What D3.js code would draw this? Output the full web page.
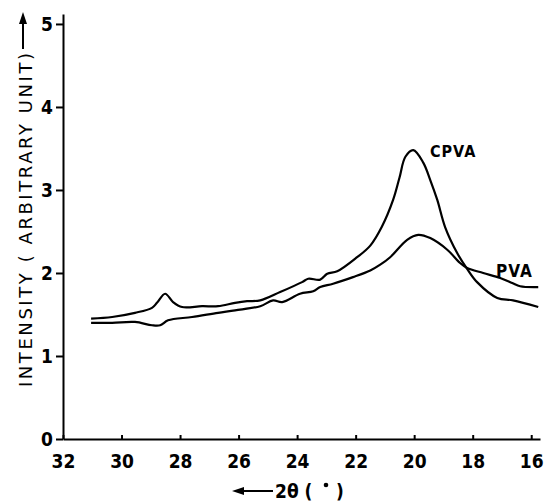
<!DOCTYPE html>
<html>
<head>
<meta charset="utf-8">
<script src="https://cdn.jsdelivr.net/npm/d3@7"></script>
<style>
  body { margin: 0; background: #fff; }
  svg text { font-family: "DejaVu Sans Condensed", "DejaVu Sans", sans-serif; font-stretch: condensed; fill: #000; }
</style>
</head>
<body>
<svg width="544" height="502"></svg>
<script>
const svg = d3.select("svg");

// 2-theta (degrees) and intensity
const cpvaTheta = [31.04, 30.32, 29.54, 28.96, 28.79, 28.51, 28.24, 27.93, 27.25, 26.70, 26.12, 25.71, 25.26, 24.58, 23.83, 23.62, 23.21, 22.97, 22.63, 21.95, 21.50, 21.10, 20.72, 20.50, 20.30, 20.03, 19.69, 19.45, 19.21, 18.94, 18.53, 18.19, 17.85, 17.16, 16.62, 15.76];
const cpvaValue = [1.45, 1.47, 1.52, 1.58, 1.64, 1.75, 1.65, 1.59, 1.60, 1.60, 1.64, 1.66, 1.67, 1.77, 1.89, 1.93, 1.92, 1.99, 2.02, 2.19, 2.33, 2.56, 2.88, 3.15, 3.40, 3.48, 3.33, 3.12, 2.88, 2.55, 2.24, 2.05, 1.89, 1.70, 1.67, 1.59];

const pvaTheta = [31.04, 30.32, 29.54, 28.96, 28.68, 28.41, 27.59, 26.70, 26.12, 25.26, 24.82, 24.51, 23.90, 23.45, 23.21, 22.77, 22.09, 21.50, 21.16, 20.82, 20.24, 19.86, 19.45, 18.87, 18.43, 18.19, 17.64, 17.06, 16.65, 16.38, 15.76];
const pvaValue = [1.40, 1.40, 1.41, 1.37, 1.37, 1.43, 1.47, 1.52, 1.55, 1.60, 1.67, 1.65, 1.75, 1.78, 1.83, 1.87, 1.95, 2.03, 2.10, 2.19, 2.40, 2.46, 2.42, 2.28, 2.12, 2.06, 2.00, 1.94, 1.88, 1.84, 1.83];

const xTicks = [32, 30, 28, 26, 24, 22, 20, 18, 16];
const yTicks = [0, 1, 2, 3, 4, 5];

const x = d3.scaleLinear().domain([32, 15.7]).range([63, 540]);
const y = d3.scaleLinear().domain([0, 5.12]).range([439, 14]);

// x axis (ticks point up)
const gx = svg.append("g").attr("transform", `translate(0,${y(0)})`)
  .call(d3.axisBottom(x).tickValues(xTicks).tickFormat(d3.format("d"))
    .tickSizeInner(-4).tickSizeOuter(0).tickPadding(16));
gx.select(".domain").attr("stroke", "#000").attr("stroke-width", 2);
gx.selectAll(".tick line").attr("stroke", "#000").attr("stroke-width", 2);
gx.selectAll(".tick text").attr("font-size", 19).attr("font-weight", "bold");

// y axis
const gy = svg.append("g").attr("transform", `translate(${x(32)},0)`)
  .call(d3.axisLeft(y).tickValues(yTicks).tickFormat(d3.format("d"))
    .tickSize(7).tickSizeOuter(0).tickPadding(3));
gy.select(".domain").attr("stroke", "#000").attr("stroke-width", 2);
gy.selectAll(".tick line").attr("stroke", "#000").attr("stroke-width", 2);
gy.selectAll(".tick text").attr("font-size", 19).attr("font-weight", "bold");

// curves
const line = d3.line().x(d => x(d[0])).y(d => y(d[1])).curve(d3.curveCatmullRom.alpha(0.5));
const cpva = cpvaTheta.map((t, i) => [t, cpvaValue[i]]);
const pva = pvaTheta.map((t, i) => [t, pvaValue[i]]);
[cpva, pva].forEach(d => {
  svg.append("path").datum(d).attr("d", line)
    .attr("fill", "none").attr("stroke", "#000").attr("stroke-width", 2.2)
    .attr("stroke-linejoin", "round");
});

svg.append("text").attr("x", 430).attr("y", 157).attr("font-size", 16).attr("font-weight", "bold")
  .attr("letter-spacing", 1).text("CPVA");
svg.append("text").attr("x", 496).attr("y", 277).attr("font-size", 17).attr("font-weight", "bold")
  .attr("letter-spacing", 1).text("PVA");

// y axis title with arrow
svg.append("text").attr("transform", "translate(32,387) rotate(-90)")
  .attr("font-size", 18).style("font-stretch", "normal").style("font-family", "'DejaVu Sans', sans-serif")
  .attr("textLength", 334).attr("lengthAdjust", "spacing")
  .text("INTENSITY ( ARBITRARY UNIT)");
svg.append("line").attr("x1", 23).attr("x2", 23).attr("y1", 49).attr("y2", 20)
  .attr("stroke", "#000").attr("stroke-width", 2);
svg.append("path").attr("d", "M23,12 L19,24 L27,24 Z").attr("fill", "#000");

// x axis title with arrow
svg.append("line").attr("x1", 240).attr("x2", 273).attr("y1", 491).attr("y2", 491)
  .attr("stroke", "#000").attr("stroke-width", 2);
svg.append("path").attr("d", "M232,491 L244,487 L244,495 Z").attr("fill", "#000");
svg.append("text").attr("x", 275).attr("y", 498).attr("font-size", 19).attr("font-weight", "bold")
  .text("2θ ( ");
svg.append("circle").attr("cx", 326).attr("cy", 485).attr("r", 2.3).attr("fill", "#000");
svg.append("text").attr("x", 336).attr("y", 498).attr("font-size", 19).attr("font-weight", "bold")
  .text(")");
</script>
</body>
</html>
